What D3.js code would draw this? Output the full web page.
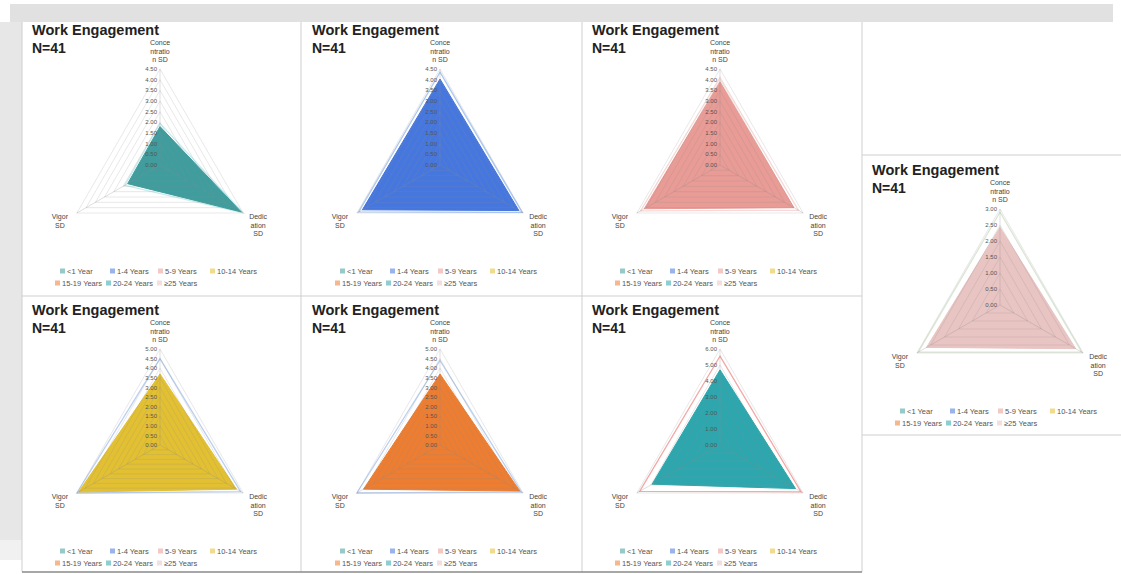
<!DOCTYPE html>
<html>
<head>
<meta charset="utf-8">
<script src="https://cdn.jsdelivr.net/npm/d3@7"></script>
<style>
  body { margin: 0; background: #fff; }
  svg { display: block; font-family: "Liberation Sans", Arial, sans-serif; }
</style>
</head>
<body>
<svg id="chart" width="1121" height="574"></svg>
<script>
// axis names, broken the way the source wraps them (top, bottom right, bottom left)
const axisNames = [["Conce", "ntratio", "n SD"], ["Dedic", "ation", "SD"], ["Vigor", "SD"]];
const groups = ["<1 Year", "1-4 Years", "5-9 Years", "10-14 Years", "15-19 Years", "20-24 Years", "\u226525 Years"];

// values per group, in axis order: concentration, dedication, vigor
const under1Year = [1.80, 4.40, 1.75];
const years1to4 = [4.03, 4.27, 4.20];
const years5to9 = [3.90, 4.00, 4.10];
const years10to14 = [3.70, 4.60, 4.90];
const years15to19 = [3.70, 4.80, 4.60];
const years20to24 = [4.70, 5.45, 4.90];
const years25plus = [2.43, 2.73, 2.65];
const groupValues = [under1Year, years1to4, years5to9, years10to14, years15to19, years20to24, years25plus];

// which group each panel shows, and its axis
const panelGroup = [0, 1, 2, 6, 3, 4, 5];
const panelMax = [4.5, 4.5, 4.5, 3.0, 5.0, 5.0, 6.0];
const panelStep = [0.5, 0.5, 0.5, 0.5, 0.5, 0.5, 1.0];
// the faint second outline seen behind each filled shape
const panelOutline = [
  [1.95, 4.50, 1.90],
  [4.35, 4.45, 4.40],
  [4.10, 4.25, 4.30],
  [2.90, 2.95, 2.95],
  [4.50, 4.85, 5.00],
  [4.40, 4.90, 5.00],
  [5.55, 5.85, 5.80]
];

const groupColors = ["#3f9d9e", "#4677de", "#e99b96", "#e2c032", "#ed7d31", "#2ea6ad", "#e8c4c2"];
const outlineColors = ["#c6ecee", "#adc8ef", "#f6d9d6", "#dbe6d5", "#bcd0ef", "#bcd0ef", "#f3a9a6"];

// where each panel's title sits (left x, middle y)
const panelX = [32, 312, 592, 872, 32, 312, 592];
const panelY = [30, 30, 30, 170, 310, 310, 310];

const svg = d3.select("#chart");

// page furniture
svg.append("rect").attr("x", 10).attr("y", 4).attr("width", 1103).attr("height", 18).attr("fill", "#e1e1e1");
svg.append("rect").attr("x", 0).attr("y", 22).attr("width", 22).attr("height", 518).attr("fill", "#e7e7e7");
svg.append("rect").attr("x", 0).attr("y", 540).attr("width", 22).attr("height", 20).attr("fill", "#f1f1f1");
const frame = [
  [22, 22, 22, 572], [301, 22, 301, 572], [582, 22, 582, 572], [862, 22, 862, 572],
  [22, 296, 862, 296], [862, 155, 1121, 155], [862, 435, 1121, 435]
];
frame.forEach(function(f) {
  svg.append("line").attr("x1", f[0]).attr("y1", f[1]).attr("x2", f[2]).attr("y2", f[3])
    .attr("stroke", "#cfcfcf").attr("stroke-width", 1);
});
svg.append("line").attr("x1", 22).attr("y1", 572).attr("x2", 862).attr("y2", 572)
  .attr("stroke", "#8a8a8a").attr("stroke-width", 1.5);

const RADIUS = 96;
const angle = function(i) { return i * 2 * Math.PI / 3; };

function drawPanel(p) {
  let g = svg.append("g").attr("transform", "translate(" + panelX[p] + "," + panelY[p] + ")");
  g.append("text").attr("x", 0).attr("y", 5).attr("font-size", 14.5).attr("font-weight", "bold")
    .attr("fill", "#222").text("Work Engagement");
  g.append("text").attr("x", 0).attr("y", 23).attr("font-size", 14).attr("font-weight", "bold")
    .attr("fill", "#222").text("N=41");

  const cx = 128, cy = 135;
  let r = d3.scaleLinear().domain([0, panelMax[p]]).range([0, RADIUS]);
  let ticks = d3.range(0, panelMax[p] + panelStep[p] / 2, panelStep[p]);
  let radar = d3.lineRadial()
    .angle(function(d, i) { return angle(i); })
    .radius(function(d) { return r(d); })
    .curve(d3.curveLinearClosed);

  let plot = g.append("g").attr("transform", "translate(" + cx + "," + cy + ")");

  plot.append("path")
    .attr("d", radar(panelOutline[p]))
    .attr("fill", "none")
    .attr("stroke", outlineColors[p])
    .attr("stroke-width", 1.3);

  let col = groupColors[panelGroup[p]];
  plot.append("path")
    .attr("d", radar(groupValues[panelGroup[p]]))
    .attr("fill", col)
    .attr("stroke", col)
    .attr("stroke-width", 1);

  // grid on top, faint, as in the source
  ticks.slice(1).forEach(function(t) {
    plot.append("path")
      .attr("d", radar([t, t, t]))
      .attr("fill", "none")
      .attr("stroke", "rgba(140,140,140,0.25)")
      .attr("stroke-width", 0.8);
  });
  for (let i = 0; i < 3; i++) {
    plot.append("line")
      .attr("x1", 0).attr("y1", 0)
      .attr("x2", RADIUS * Math.sin(angle(i)))
      .attr("y2", -RADIUS * Math.cos(angle(i)))
      .attr("stroke", "rgba(140,140,140,0.35)")
      .attr("stroke-width", 0.8);
  }

  plot.selectAll("text.tick")
    .data(ticks)
    .enter().append("text")
    .attr("class", "tick")
    .attr("x", -3)
    .attr("y", function(t) { return -r(t); })
    .attr("dy", "0.35em")
    .attr("text-anchor", "end")
    .attr("font-size", 6)
    .attr("fill", "#555")
    .text(d3.format(".2f"));

  // axis names
  const vx = RADIUS * Math.sin(angle(1));
  const vy = -RADIUS * Math.cos(angle(1));
  axisNames[0].forEach(function(s, k) {
    plot.append("text").attr("x", 0).attr("y", -RADIUS - 24 + k * 8.5)
      .attr("text-anchor", "middle").attr("font-size", 7).attr("fill", "#444").text(s);
  });
  axisNames[1].forEach(function(s, k) {
    plot.append("text").attr("x", vx + 15).attr("y", vy + 6 + k * 8.5)
      .attr("text-anchor", "middle").attr("font-size", 7).attr("fill", "#444").text(s);
  });
  axisNames[2].forEach(function(s, k) {
    plot.append("text").attr("x", -vx - 17).attr("y", vy + 6 + k * 8.5)
      .attr("text-anchor", "middle").attr("font-size", 7).attr("fill", "#444").text(s);
  });

  // legend, two rows
  const legX = [28, 78, 126, 178, 23, 74, 125];
  groups.forEach(function(name, i) {
    let ly = i < 4 ? 241 : 253;
    g.append("rect").attr("x", legX[i]).attr("y", ly - 2.5).attr("width", 5).attr("height", 5)
      .attr("fill", groupColors[i]).attr("fill-opacity", 0.55);
    g.append("text").attr("x", legX[i] + 7).attr("y", ly).attr("dy", "0.35em")
      .attr("font-size", 7.5).attr("fill", "#555").text(name);
  });
}

for (let p = 0; p < panelGroup.length; p++) {
  drawPanel(p);
}
</script>
</body>
</html>
